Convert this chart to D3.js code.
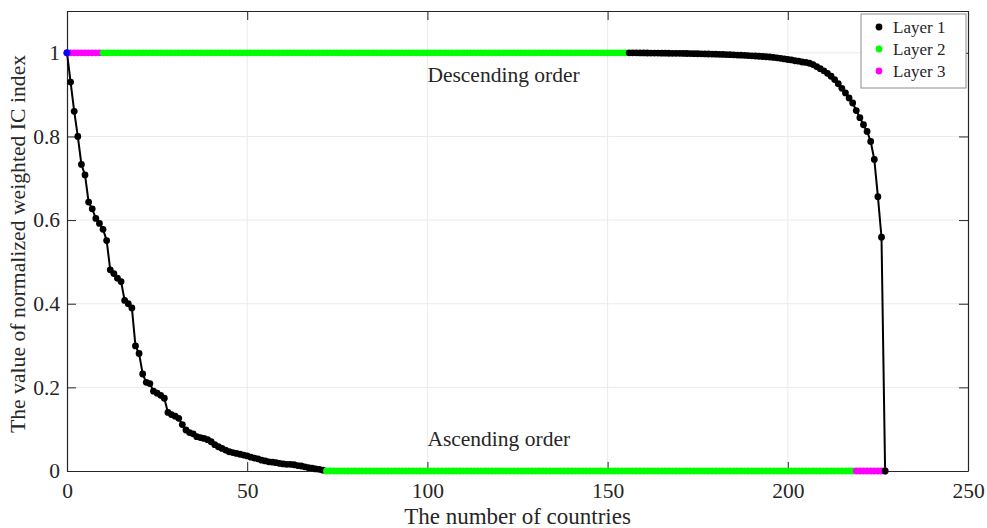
<!DOCTYPE html>
<html>
<head>
<meta charset="utf-8">
<script src="https://cdn.jsdelivr.net/npm/d3@7"></script>
<style>
    body { margin: 0; background: #fff; }
    svg text { font-family: "Liberation Serif", "Times New Roman", serif; fill: #262626; }
</style>
</head>
<body>
<svg class="chart"></svg>
<script>
var xTicks = [0, 50, 100, 150, 200, 250];
var yTicks = [0, 0.2, 0.4, 0.6, 0.8, 1];
var legendLabels = ['Layer 1', 'Layer 2', 'Layer 3'];
var layerColors = ['#000000', '#00ff00', '#ff00ff'];

// ascending order curve, layer 1 part (x = 0..71)
var ascBlack = [1.0, 0.93, 0.86, 0.80, 0.733, 0.708, 0.643, 0.627, 0.604, 0.592,
    0.578, 0.551, 0.481, 0.472, 0.461, 0.453, 0.408, 0.400, 0.390, 0.299,
    0.281, 0.232, 0.212, 0.209, 0.191, 0.186, 0.181, 0.174, 0.140, 0.135,
    0.131, 0.126, 0.111, 0.098, 0.092, 0.089, 0.082, 0.080, 0.078, 0.075,
    0.070, 0.063, 0.058, 0.054, 0.050, 0.046, 0.044, 0.042, 0.040, 0.038,
    0.036, 0.033, 0.031, 0.029, 0.026, 0.024, 0.022, 0.021, 0.020, 0.018,
    0.017, 0.016, 0.016, 0.015, 0.013, 0.012, 0.010, 0.008, 0.007, 0.005,
    0.004, 0.002];
// flat parts: [layer, from, to, value]
var ascFlat = [[2, 72, 218, 0], [3, 219, 227, 0]];

// descending order curve
var descFlat = [[3, 0, 9, 1], [2, 10, 155, 1]];
var descBlackStart = 156;
var descBlack = [1.000, 1.000, 0.9999, 0.9998, 0.9997, 0.9996, 0.9995, 0.9994, 0.9993, 0.9992,
    0.9991, 0.999, 0.9989, 0.9988, 0.9987, 0.9986, 0.9984, 0.9982, 0.998, 0.9978,
    0.9976, 0.9974, 0.9972, 0.997, 0.9967, 0.9964, 0.9961, 0.9958, 0.9955, 0.9951,
    0.9947, 0.9943, 0.9939, 0.9934, 0.9929, 0.9924, 0.9918, 0.9912, 0.9906, 0.99,
    0.989, 0.988, 0.9868, 0.9855, 0.984, 0.983, 0.981, 0.980, 0.978, 0.977,
    0.975, 0.972, 0.967, 0.962, 0.957, 0.951, 0.944, 0.936, 0.926, 0.915,
    0.904, 0.892, 0.880, 0.862, 0.845, 0.828, 0.812, 0.788, 0.745, 0.656,
    0.559, 0];
var startPoint = [0, 1];

var config = {
    width: 987,
    height: 528,
    margin: {left: 67, top: 11, right: 19, bottom: 57}
};
config.chartWidth = config.width - config.margin.left - config.margin.right;
config.chartHeight = config.height - config.margin.top - config.margin.bottom;

function buildCurve(black, blackStart, flats){
    var pts = [];
    black.forEach(function(v, i){ pts.push({x: blackStart + i, y: v, layer: 1}); });
    flats.forEach(function(f){
        for(var x = f[1]; x <= f[2]; x++) pts.push({x: x, y: f[3], layer: f[0]});
    });
    return pts.sort(function(a, b){ return a.x - b.x; });
}

var ascPoints = buildCurve(ascBlack, 0, ascFlat);
var descPoints = buildCurve(descBlack, descBlackStart, descFlat);

var scaleX = d3.scaleLinear().domain([0, 250]).range([0, config.chartWidth]);
var scaleY = d3.scaleLinear().domain([0, 1.1]).range([config.chartHeight, 0]);

var chart = d3.select('svg.chart')
    .attr('width', config.width)
    .attr('height', config.height);

var panel = chart.append('g')
    .attr('transform', 'translate(' + [config.margin.left, config.margin.top] + ')');

// grid
panel.append('g').selectAll('line')
    .data(xTicks.slice(1, -1))
    .enter().append('line')
    .attr('x1', function(d){ return scaleX(d); })
    .attr('x2', function(d){ return scaleX(d); })
    .attr('y1', 0).attr('y2', config.chartHeight)
    .attr('stroke', '#ebebeb').attr('stroke-width', 1);

panel.append('g').selectAll('line')
    .data(yTicks.slice(1))
    .enter().append('line')
    .attr('y1', function(d){ return scaleY(d); })
    .attr('y2', function(d){ return scaleY(d); })
    .attr('x1', 0).attr('x2', config.chartWidth)
    .attr('stroke', '#ebebeb').attr('stroke-width', 1);

// axes, ticks inside
var tickSize = 9;
var axisBottom = d3.axisBottom(scaleX).tickValues(xTicks).tickSizeInner(-tickSize).tickSizeOuter(0).tickPadding(12);
var axisTop = d3.axisTop(scaleX).tickValues(xTicks).tickSizeInner(-tickSize).tickSizeOuter(0).tickFormat('');
var axisLeft = d3.axisLeft(scaleY).tickValues(yTicks).tickSizeInner(-tickSize).tickSizeOuter(0).tickPadding(7)
    .tickFormat(function(d){ return d3.format('')(+d.toFixed(1)); });
var axisRight = d3.axisRight(scaleY).tickValues(yTicks).tickSizeInner(-tickSize).tickSizeOuter(0).tickFormat('');

function styleAxis(sel){
    sel.selectAll('path').attr('stroke', '#262626').attr('stroke-width', 1.2);
    sel.selectAll('line').attr('stroke', '#262626');
    sel.selectAll('text').attr('font-family', '"Liberation Serif", serif').attr('font-size', 21.5).attr('fill', '#262626');
}

panel.append('g').attr('transform', 'translate(0,' + config.chartHeight + ')').call(axisBottom).call(styleAxis);
panel.append('g').call(axisTop).call(styleAxis);
panel.append('g').call(axisLeft).call(styleAxis);
panel.append('g').attr('transform', 'translate(' + config.chartWidth + ',0)').call(axisRight).call(styleAxis);

// lines
var line = d3.line()
    .x(function(d){ return scaleX(d.x); })
    .y(function(d){ return scaleY(d.y); });

panel.selectAll('.curve')
    .data([ascPoints, descPoints])
    .enter().append('path').classed('curve', true)
    .attr('d', line)
    .attr('fill', 'none')
    .attr('stroke', '#000')
    .attr('stroke-width', 2);

// markers
var dotSize = 3.4;
panel.selectAll('.layer')
    .data([ascPoints, descPoints])
    .enter().append('g').classed('layer', true)
    .selectAll('circle')
    .data(function(d){ return d; })
    .enter().append('circle')
    .attr('cx', function(d){ return scaleX(d.x); })
    .attr('cy', function(d){ return scaleY(d.y); })
    .attr('r', dotSize)
    .attr('fill', function(d){ return layerColors[d.layer - 1]; });

panel.append('circle')
    .attr('cx', scaleX(startPoint[0]))
    .attr('cy', scaleY(startPoint[1]))
    .attr('r', dotSize)
    .attr('fill', '#0000ff');

// annotations
panel.append('text')
    .attr('x', scaleX(100)).attr('y', scaleY(0.93))
    .attr('font-size', 21.5)
    .text('Descending order');

panel.append('text')
    .attr('x', scaleX(100)).attr('y', scaleY(0.06))
    .attr('font-size', 21.5)
    .text('Ascending order');

// axis labels
chart.append('text')
    .attr('x', config.margin.left + config.chartWidth / 2)
    .attr('y', 524)
    .attr('text-anchor', 'middle')
    .attr('font-size', 23)
    .text('The number of countries');

chart.append('text')
    .attr('transform', 'translate(25,' + (config.margin.top + config.chartHeight / 2 + 3) + ') rotate(-90)')
    .attr('text-anchor', 'middle')
    .attr('font-size', 21.7)
    .text('The value of normalized weighted IC index');

// legend
var legend = panel.append('g')
    .attr('transform', 'translate(' + (config.chartWidth - 107) + ',3)');

legend.append('rect')
    .attr('width', 105).attr('height', 74)
    .attr('fill', '#fff')
    .attr('stroke', '#8c8c8c').attr('stroke-width', 1);

var items = legend.selectAll('.item')
    .data(legendLabels)
    .enter().append('g').classed('item', true)
    .attr('transform', function(d, i){ return 'translate(0,' + (13 + i * 22) + ')'; });

items.append('circle')
    .attr('cx', 18).attr('cy', 0).attr('r', dotSize)
    .attr('fill', function(d, i){ return layerColors[i]; });

items.append('text')
    .attr('x', 32).attr('y', 5.5)
    .attr('font-size', 17)
    .text(function(d){ return d; });
</script>
</body>
</html>
